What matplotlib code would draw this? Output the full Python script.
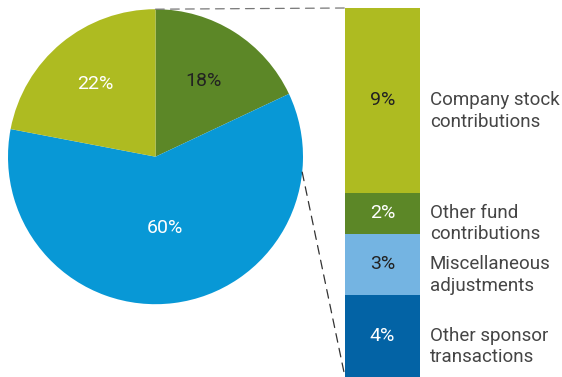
import numpy as np
import matplotlib.pyplot as plt
from matplotlib.patches import ConnectionPatch

plt.rcParams['font.family'] = ['Roboto', 'DejaVu Sans']

# pie: share of total (%), clockwise from 12 o'clock
pie_values = [18, 60, 22]
pie_labels = ['18%', '60%', '22%']
pie_colors = ['#5c8727', '#0898d6', '#aebb21']
pie_text_colors = ['#222222', 'white', 'white']
pie_label_dist = [0.61, 0.49, 0.64]

# breakdown of the 18% slice, top to bottom
bar_names = ['Company stock\ncontributions', 'Other fund\ncontributions',
             'Miscellaneous\nadjustments', 'Other sponsor\ntransactions']
bar_values = [9, 2, 3, 4]
bar_colors = ['#aebb21', '#5c8727', '#74b4e2', '#0363a5']
bar_text_colors = ['#222222', 'white', '#222222', 'white']

W, H = 562, 377
fig = plt.figure(figsize=(W / 100, H / 100), dpi=100)

# pie axes in pixel units
ax = fig.add_axes([0, 0, 1, 1])
cx, cy, r = 155.5, H - 156.7, 147.5
wedges, _ = ax.pie(pie_values, colors=pie_colors, startangle=90, counterclock=False,
                   center=(cx, cy), radius=r, wedgeprops=dict(linewidth=0))
for w, lab, col, d in zip(wedges, pie_labels, pie_text_colors, pie_label_dist):
    mid = np.deg2rad((w.theta1 + w.theta2) / 2)
    ax.text(cx + d * r * np.cos(mid), cy + d * r * np.sin(mid), lab,
            ha='center', va='center', fontsize=14, color=col)
ax.set_xlim(0, W)
ax.set_ylim(0, H)
ax.axis('off')

# stacked bar for the 18% slice
bx, bw, btop = 345, 75, 8
axb = fig.add_axes([bx / W, 0, bw / W, (H - btop) / H])
total = sum(bar_values)
top = total
for name, v, col, tcol in zip(bar_names, bar_values, bar_colors, bar_text_colors):
    axb.bar(0, v, bottom=top - v, width=1, align='edge', color=col, linewidth=0)
    mid = top - v / 2
    axb.text(0.5, mid, f'{v}%', ha='center', va='center', fontsize=14, color=tcol)
    axb.text(1.13, mid + 0.45, name, ha='left', va='top', fontsize=13.5,
             color='#454545', linespacing=1.25)
    top -= v
axb.set_xlim(0, 1)
axb.set_ylim(0, total)
axb.axis('off')

# dashed connectors from the slice to the bar
edge = np.deg2rad(-6)
connectors = [((cx, cy + r), (0, total), '#777777'),
              ((cx + r * np.cos(edge), cy + r * np.sin(edge)), (0, 0), '#333333')]
for xy_pie, xy_bar, lc in connectors:
    con = ConnectionPatch(xyA=xy_pie, coordsA=ax.transData, xyB=xy_bar, coordsB=axb.transData,
                          color=lc, linewidth=0.9, linestyle=(0, (7, 5)))
    fig.add_artist(con)

fig.savefig('out.png', dpi=100)
